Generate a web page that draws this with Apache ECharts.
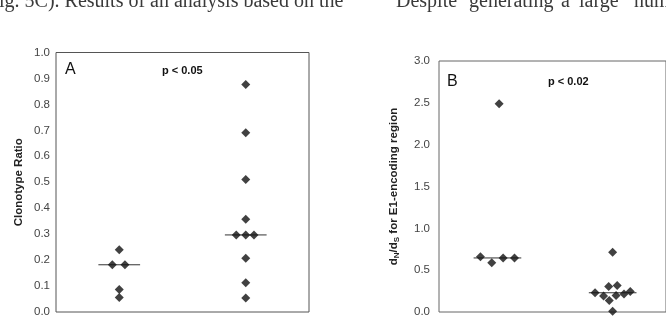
<!DOCTYPE html>
<html><head><meta charset="utf-8">
<script src="https://cdn.jsdelivr.net/npm/echarts@6/dist/echarts.min.js"></script>
<style>html,body{margin:0;padding:0;background:#fff}#c{width:666px;height:318px}</style>
</head><body><div id="c"></div>
<script>
// Panel A: clonotype ratio
var aGroupPos = [1, 3];
var aGroup1Vals = [0.24, 0.182, 0.182, 0.087, 0.056];
var aGroup1Jit  = [0, -0.11, 0.09, 0, 0];
var aGroup2Vals = [0.877, 0.691, 0.511, 0.357, 0.297, 0.297, 0.297, 0.207, 0.113, 0.054];
var aGroup2Jit  = [0, 0, 0, 0, -0.15, 0, 0.13, 0, 0, 0];
var aMedians = [0.182, 0.297];
var aTicks = [0, 0.1, 0.2, 0.3, 0.4, 0.5, 0.6, 0.7, 0.8, 0.9, 1.0];

// Panel B: dN/dS
var bGroupPos = [1.03, 3.06];
var bGroup1Vals = [2.49, 0.661, 0.59, 0.646, 0.646];
var bGroup1Jit  = [0.03, -0.3, -0.1, 0.1, 0.3];
var bGroup2Vals = [0.713, 0.305, 0.317, 0.229, 0.19, 0.138, 0.198, 0.214, 0.245, 0.01];
var bGroup2Jit  = [0, -0.07, 0.08, -0.31, -0.16, -0.06, 0.06, 0.2, 0.31, 0];
var bMedians = [0.646, 0.23];
var bTicks = [0, 0.5, 1.0, 1.5, 2.0, 2.5, 3.0];

// surrounding page text
var leftText = 'ig. 5C). Results of an analysis based on the';
var rightWords = ['Despite', 'generating', 'a', 'large', 'number'];

var medianHalf = 0.33;
var bMedianHalf = 0.42;

function pts(pos, vals, jit){ return vals.map(function(v,i){ return [pos + jit[i], v]; }); }
function medLine(pos, m, h){ return [[pos - h, m], [pos + h, m]]; }

var chart = echarts.init(document.getElementById('c'), null, {renderer:'canvas'});
var lblStyle = {color:'#444', fontFamily:'Liberation Sans, Arial, sans-serif', fontSize:11.5};
var diamond = {type:'scatter', symbol:'diamond', symbolSize:[9,9], itemStyle:{color:'#111'}, silent:true, z:5};
var lineS = {type:'line', symbol:'none', lineStyle:{color:'#333', width:1}, silent:true, z:3};
var serif = 'Liberation Serif, Times New Roman, serif';
var rightX = [396, 469, 561, 579, 634];

var graphics = [
  {type:'text', left:65, top:62, style:{text:'A', fontFamily:'Liberation Sans, Arial, sans-serif', fontSize:16, fill:'#111'}},
  {type:'text', left:162, top:65, style:{text:'p < 0.05', fontFamily:'Liberation Sans, Arial, sans-serif', fontSize:11, fontWeight:'bold', fill:'#111'}},
  {type:'text', left:447, top:74, style:{text:'B', fontFamily:'Liberation Sans, Arial, sans-serif', fontSize:16, fill:'#111'}},
  {type:'text', left:548, top:76, style:{text:'p < 0.02', fontFamily:'Liberation Sans, Arial, sans-serif', fontSize:11, fontWeight:'bold', fill:'#111'}},
  {type:'text', x:-1, y:-8, style:{text:leftText, fontFamily:serif, fontSize:20, fill:'#3a3a3a'}}
];
rightWords.forEach(function(w, i){
  graphics.push({type:'text', x:rightX[i], y:-8, style:{text:w, fontFamily:serif, fontSize:20, fill:'#3a3a3a'}});
});

chart.setOption({
  animation:false,
  grid:[
    {left:56, top:52.5, width:253, height:260.8, show:true, borderColor:'#555', borderWidth:1},
    {left:439, top:61, width:256, height:252.3, show:true, borderColor:'#666', borderWidth:1}
  ],
  xAxis:[
    {gridIndex:0, type:'value', min:0, max:4, show:false},
    {gridIndex:1, type:'value', min:0, max:4, show:false}
  ],
  yAxis:[
    {gridIndex:0, type:'value', min:0, max:1, interval:0.1, splitLine:{show:false},
     axisLine:{show:false}, axisTick:{show:false},
     axisLabel:Object.assign({margin:6, formatter:function(v){return v.toFixed(1);}}, lblStyle),
     name:'Clonotype Ratio', nameLocation:'middle', nameGap:31,
     nameTextStyle:{fontFamily:'Liberation Sans, Arial, sans-serif', fontWeight:'bold', fontSize:11.5, color:'#222'}},
    {gridIndex:1, type:'value', min:0, max:3, interval:0.5, splitLine:{show:false},
     axisLine:{show:false}, axisTick:{show:false},
     axisLabel:Object.assign({margin:9, formatter:function(v){return v.toFixed(1);}}, lblStyle),
     name:'d{s|N}/d{s|S} for E1-encoding region', nameLocation:'middle', nameGap:38,
     nameTextStyle:{fontFamily:'Liberation Sans, Arial, sans-serif', fontWeight:'bold', fontSize:11.5, color:'#222',
       rich:{s:{fontFamily:'Liberation Sans, Arial, sans-serif', fontWeight:'bold', fontSize:8, color:'#222', verticalAlign:'bottom', padding:[6,0,0,0]}}}}
  ],
  series:[
    Object.assign({xAxisIndex:0, yAxisIndex:0, data:medLine(aGroupPos[0], aMedians[0], medianHalf)}, lineS),
    Object.assign({xAxisIndex:0, yAxisIndex:0, data:medLine(aGroupPos[1], aMedians[1], medianHalf)}, lineS),
    Object.assign({xAxisIndex:0, yAxisIndex:0, data:pts(aGroupPos[0], aGroup1Vals, aGroup1Jit)}, diamond),
    Object.assign({xAxisIndex:0, yAxisIndex:0, data:pts(aGroupPos[1], aGroup2Vals, aGroup2Jit)}, diamond),
    Object.assign({xAxisIndex:1, yAxisIndex:1, data:medLine(bGroupPos[0], bMedians[0], bMedianHalf)}, lineS),
    Object.assign({xAxisIndex:1, yAxisIndex:1, data:medLine(bGroupPos[1], bMedians[1], bMedianHalf)}, lineS),
    Object.assign({xAxisIndex:1, yAxisIndex:1, data:pts(bGroupPos[0], bGroup1Vals, bGroup1Jit)}, diamond),
    Object.assign({xAxisIndex:1, yAxisIndex:1, data:pts(bGroupPos[1], bGroup2Vals, bGroup2Jit)}, diamond)
  ],
  graphic:graphics
});
</script></body></html>
